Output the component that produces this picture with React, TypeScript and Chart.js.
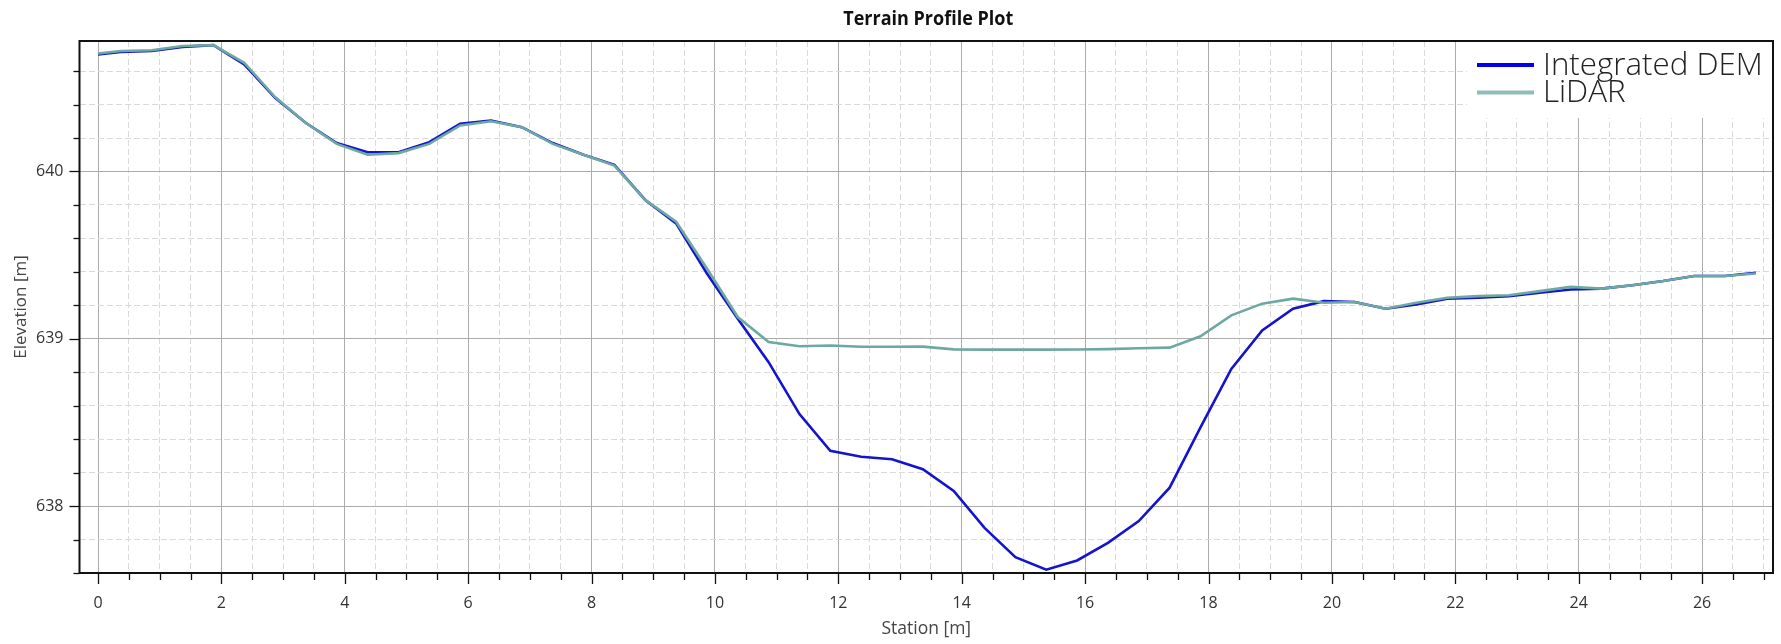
import React, { useEffect, useRef } from "react";
import { Chart, registerables } from "chart.js";

Chart.register(...registerables);

// Station along the profile [m]
const stations = [
  0, 0.37, 0.87, 1.37, 1.87, 2.37, 2.87, 3.37, 3.87, 4.37, 4.87, 5.37, 5.87, 6.37, 6.87,
  7.37, 7.87, 8.37, 8.87, 9.37, 9.87, 10.37, 10.87, 11.37, 11.87, 12.37, 12.87, 13.37,
  13.87, 14.37, 14.87, 15.37, 15.87, 16.37, 16.87, 17.37, 17.87, 18.37, 18.87, 19.37,
  19.87, 20.37, 20.87, 21.37, 21.87, 22.37, 22.87, 23.37, 23.87, 24.37, 24.87, 25.37,
  25.87, 26.37, 26.87,
];

// Integrated DEM elevation [m]
const demElevation = [
  640.7, 640.715, 640.72, 640.745, 640.755, 640.64, 640.44, 640.29, 640.17, 640.115,
  640.115, 640.175, 640.285, 640.305, 640.265, 640.17, 640.1, 640.04, 639.83, 639.69,
  639.39, 639.12, 638.86, 638.55, 638.33, 638.295, 638.28, 638.22, 638.09, 637.87,
  637.695, 637.62, 637.675, 637.78, 637.91, 638.11, 638.47, 638.82, 639.05, 639.18,
  639.225, 639.22, 639.18, 639.205, 639.24, 639.245, 639.255, 639.275, 639.295, 639.3,
  639.32, 639.345, 639.375, 639.375, 639.395,
];

// LiDAR elevation [m]
const lidarElevation = [
  640.705, 640.72, 640.725, 640.75, 640.755, 640.65, 640.445, 640.29, 640.165, 640.1,
  640.11, 640.165, 640.275, 640.3, 640.265, 640.165, 640.1, 640.035, 639.83, 639.7,
  639.42, 639.13, 638.98, 638.955, 638.96, 638.952, 638.952, 638.953, 638.937, 638.935,
  638.935, 638.935, 638.936, 638.938, 638.943, 638.947, 639.015, 639.14, 639.21, 639.24,
  639.215, 639.22, 639.18, 639.215, 639.245, 639.255, 639.26, 639.285, 639.31, 639.3,
  639.32, 639.345, 639.375, 639.375, 639.39,
];

const xTickLabels = ["0", "2", "4", "6", "8", "10", "12", "14", "16", "18", "20", "22", "24", "26"];
const yTickLabels = ["638", "639", "640"];
const seriesNames = ["Integrated DEM", "LiDAR"];
const seriesColors = ["#1414cc", "#6ea8a2"];
const legendColors = ["#0000ee", "#8fbdb8"];

const FONT = '"Open Sans", "DejaVu Sans", sans-serif';

const isMajorX = (v: number) => Math.abs(v / 2 - Math.round(v / 2)) < 1e-6;
const isMajorY = (v: number) => Math.abs(v - Math.round(v)) < 1e-6;

const framePlugin = {
  id: "frameTicks",
  afterDraw(chart: any) {
    const { ctx, chartArea } = chart;
    const xs = chart.scales.x;
    const ys = chart.scales.y;
    ctx.save();
    ctx.strokeStyle = "#111";
    ctx.lineWidth = 1.3;
    xs.ticks.forEach((t: any) => {
      const px = Math.round(xs.getPixelForValue(t.value)) + 0.5;
      const len = isMajorX(t.value) ? 11 : 7;
      ctx.beginPath();
      ctx.moveTo(px, chartArea.bottom);
      ctx.lineTo(px, chartArea.bottom + len);
      ctx.stroke();
    });
    ys.ticks.forEach((t: any) => {
      const py = Math.round(ys.getPixelForValue(t.value)) + 0.5;
      const len = isMajorY(t.value) ? 10 : 6;
      ctx.beginPath();
      ctx.moveTo(chartArea.left - len, py);
      ctx.lineTo(chartArea.left, py);
      ctx.stroke();
    });
    ctx.strokeStyle = "#111";
    ctx.lineWidth = 2;
    ctx.strokeRect(chartArea.left, chartArea.top, chartArea.right - chartArea.left, chartArea.bottom - chartArea.top);
    ctx.restore();
  },
};

const legendPlugin = {
  id: "insideLegend",
  afterDraw(chart: any) {
    const { ctx, chartArea } = chart;
    ctx.save();
    ctx.fillStyle = "#ffffff";
    ctx.fillRect(1467, chartArea.top + 1, chartArea.right - 1 - 1467, 118 - chartArea.top - 1);
    const rows = [65, 92.5];
    ctx.font = `300 27px ${FONT}`;
    const w = ctx.measureText(seriesNames[0]).width;
    const size = (27 * 220) / w;
    rows.forEach((y, i) => {
      ctx.strokeStyle = legendColors[i];
      ctx.lineWidth = 4;
      ctx.beginPath();
      ctx.moveTo(1477, y);
      ctx.lineTo(1534, y);
      ctx.stroke();
      ctx.fillStyle = "#222";
      ctx.font = `300 ${size}px ${FONT}`;
      ctx.textBaseline = "middle";
      ctx.textAlign = "left";
      ctx.fillText(seriesNames[i], 1543, y + 1);
    });
    ctx.restore();
  },
};

const titlePlugin = {
  id: "condensedTitle",
  afterDraw(chart: any) {
    const { ctx, chartArea } = chart;
    const text = "Terrain Profile Plot";
    ctx.save();
    ctx.font = `bold 19px ${FONT}`;
    const w = ctx.measureText(text).width;
    const cx = (chartArea.left + chartArea.right) / 2 + 2;
    ctx.translate(cx, 19.5);
    ctx.scale(170 / w, 1);
    ctx.fillStyle = "#111";
    ctx.textAlign = "center";
    ctx.textBaseline = "middle";
    ctx.fillText(text, 0, 0);
    ctx.restore();
  },
};

export default function App() {
  const ref = useRef<HTMLCanvasElement | null>(null);

  useEffect(() => {
    if (!ref.current) return;
    const demData = stations.map((s, i) => ({ x: s, y: demElevation[i] }));
    const lidarData = stations.map((s, i) => ({ x: s, y: lidarElevation[i] }));
    const chart = new Chart(ref.current, {
      type: "line",
      data: {
        datasets: [
          {
            label: seriesNames[0],
            data: demData,
            borderColor: seriesColors[0],
            backgroundColor: seriesColors[0],
            borderWidth: 2.6,
            pointRadius: 0,
            tension: 0,
            order: 1,
          },
          {
            label: seriesNames[1],
            data: lidarData,
            borderColor: seriesColors[1],
            backgroundColor: seriesColors[1],
            borderWidth: 2.6,
            pointRadius: 0,
            tension: 0,
            order: 0,
          },
        ],
      },
      options: {
        animation: false,
        responsive: false,
        devicePixelRatio: 1,
        layout: { padding: { left: 0, top: 41, right: 8, bottom: 0 } },
        plugins: {
          legend: { display: false },
          title: { display: false },
          tooltip: { enabled: false },
        },
        scales: {
          x: {
            type: "linear",
            min: -0.3,
            max: 27.15,
            ticks: {
              stepSize: 0.5,
              includeBounds: false,
              autoSkip: false,
              maxRotation: 0,
              minRotation: 0,
              padding: 10,
              color: "#333",
              font: { family: FONT, size: 16 },
              callback: (v: any) => {
                const n = Number(v);
                const s = String(Math.round(n));
                return isMajorX(n) && xTickLabels.includes(s) ? s : "";
              },
            },
            grid: {
              color: (c: any) => (c.tick && isMajorX(c.tick.value) ? "#ababab" : "#dadada"),
              lineWidth: 1,
              tickLength: 11,
              tickColor: "rgba(0,0,0,0)",
            },
            border: {
              display: false,
              dash: (c: any) => (c.tick && isMajorX(c.tick.value) ? [] : [6, 3]),
            },
            title: {
              display: true,
              text: "Station [m]",
              color: "#444",
              font: { family: FONT, size: 17.5 },
              padding: { top: 0, bottom: 4 },
            },
            afterFit: (s: any) => {
              s.height = 71;
            },
          },
          y: {
            type: "linear",
            min: 637.6,
            max: 640.78,
            ticks: {
              stepSize: 0.2,
              includeBounds: false,
              autoSkip: false,
              padding: 6,
              color: "#333",
              font: { family: FONT, size: 16 },
              callback: (v: any) => {
                const n = Number(v);
                const s = String(Math.round(n));
                return isMajorY(n) && yTickLabels.includes(s) ? s : "";
              },
            },
            grid: {
              color: (c: any) => (c.tick && isMajorY(c.tick.value) ? "#ababab" : "#dadada"),
              lineWidth: 1,
              tickLength: 10,
              tickColor: "rgba(0,0,0,0)",
            },
            border: {
              display: false,
              dash: (c: any) => (c.tick && isMajorY(c.tick.value) ? [] : [6, 3]),
            },
            title: {
              display: true,
              text: "Elevation [m]",
              color: "#444",
              font: { family: FONT, size: 17 },
              padding: { top: 11, bottom: 0 },
            },
            afterFit: (s: any) => {
              s.width = 79.5;
            },
          },
        },
      },
      plugins: [framePlugin, legendPlugin, titlePlugin],
    });
    return () => chart.destroy();
  }, []);

  return (
    <div style={{ position: "fixed", left: 0, top: 0, width: 1781, height: 644, background: "#fff" }}>
      <canvas ref={ref} width={1781} height={644} style={{ display: "block", width: 1781, height: 644 }} />
    </div>
  );
}
